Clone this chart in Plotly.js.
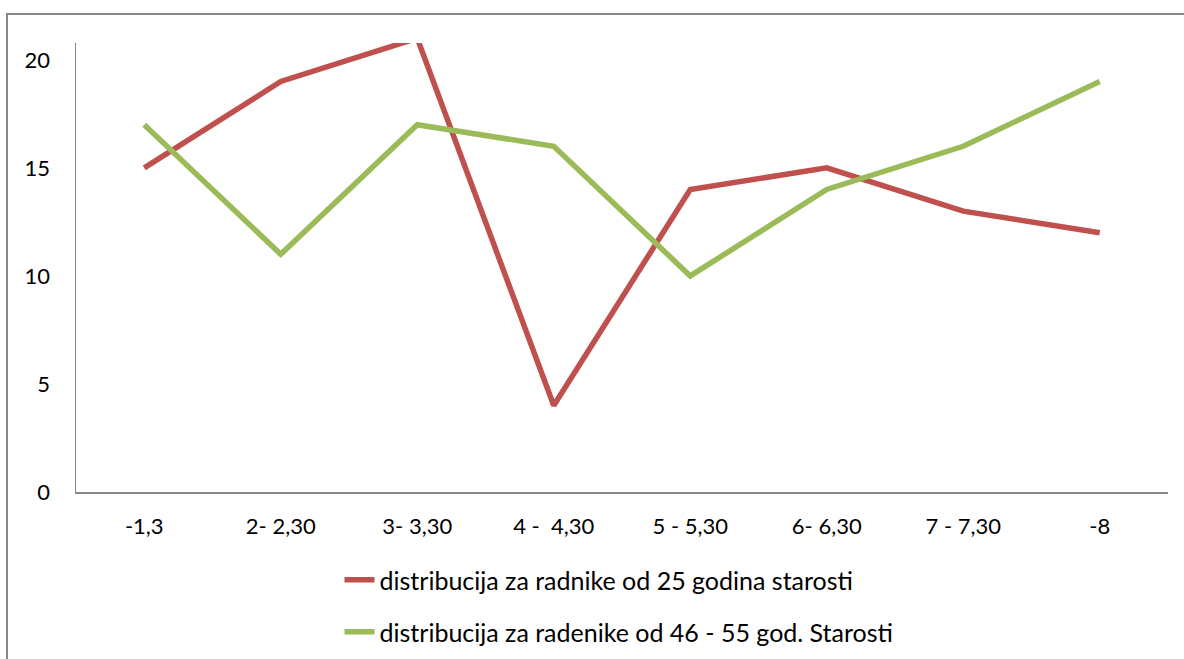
<!DOCTYPE html>
<html><head><meta charset="utf-8">
<script src="https://cdn.plot.ly/plotly-3.0.1.min.js"></script>
<style>html,body{margin:0;padding:0;background:#fff;}#chart{width:1184px;height:659px;}</style>
</head><body><div id="chart"></div>
<script>
const categories = ["-1,3", "2- 2,30", "3- 3,30", "4 -  4,30", "5 - 5,30", "6- 6,30", "7 - 7,30", "-8"];
const seriesNames = ["distribucija za radnike od 25 godina starosti", "distribucija za radenike od 46 - 55 god. Starosti"];
const radnici25 = [15, 19, 21, 4, 14, 15, 13, 12];
const radenici4655 = [17, 11, 17, 16, 10, 14, 16, 19];
const yTicks = [0, 5, 10, 15, 20];

const tickFont = {family: "Lato, 'Open Sans', sans-serif", size: 22, color: "#000"};
const legFont = {family: "Lato, 'Open Sans', sans-serif", size: 25, color: "#000"};
const traces = [
  {x: categories, y: radnici25, name: seriesNames[0], type: "scatter", mode: "lines",
   line: {color: "#C0504D", width: 5.5}, legend: "legend"},
  {x: categories, y: radenici4655, name: seriesNames[1], type: "scatter", mode: "lines",
   line: {color: "#9BBB59", width: 5.5}, legend: "legend2"}
];
const legBase = {orientation: "v", xanchor: "left", yanchor: "middle", font: legFont, bgcolor: "rgba(0,0,0,0)"};
const layout = {
  width: 1184, height: 659,
  margin: {l: 76, r: 16, t: 43, b: 167, autoexpand: false},
  paper_bgcolor: "#fff", plot_bgcolor: "#fff",
  font: tickFont,
  showlegend: true,
  legend: Object.assign({x: 0.2413, y: -0.196}, legBase),
  legend2: Object.assign({x: 0.2413, y: -0.312}, legBase),
  xaxis: {type: "category", showgrid: false, zeroline: false, showline: true,
          linecolor: "#868686", linewidth: 1.5, ticks: "outside", ticklen: 14, tickcolor: "rgba(0,0,0,0)",
          range: [-0.5, 7.5], fixedrange: true, tickfont: tickFont},
  yaxis: {range: [0, 20.78], tickvals: yTicks, showgrid: false, zeroline: false, showline: true,
          linecolor: "#868686", linewidth: 1.5, ticks: "outside", ticklen: 20, tickcolor: "rgba(0,0,0,0)",
          tickfont: tickFont},
  shapes: [{type: "rect", xref: "paper", yref: "paper", x0: -0.0632, x1: 1.2, y0: -0.6, y1: 1.0646,
            line: {color: "#868686", width: 2}, fillcolor: "rgba(0,0,0,0)", layer: "below"}]
};
Plotly.newPlot("chart", traces, layout, {displayModeBar: false, staticPlot: true});
</script></body></html>
